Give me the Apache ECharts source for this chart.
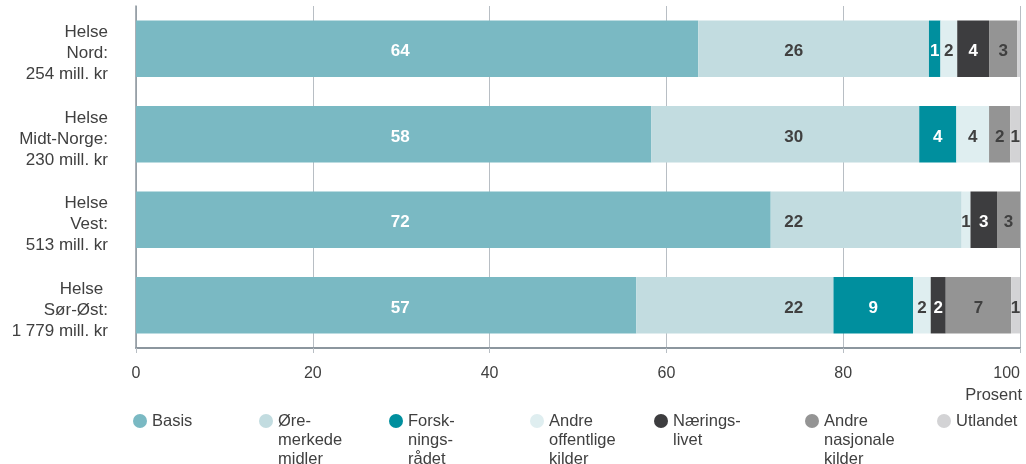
<!DOCTYPE html>
<html>
  <head>
    <meta charset="utf-8" />
    <title>Helseforetak etter finansieringskilde</title>
    <script src="https://cdn.jsdelivr.net/npm/echarts@6/dist/echarts.min.js"></script>
    <style>
      html, body { margin: 0; padding: 0; background: #fff; }
      #chart { width: 1026px; height: 464px; }
    </style>
  </head>
  <body>
    <div id="chart"></div>
    <script>
      // kategorier (ovenfra og ned)
      var categories = [
        'Helse\nNord:\n254 mill. kr',
        'Helse\nMidt-Norge:\n230 mill. kr',
        'Helse\nVest:\n513 mill. kr',
        'Helse \nSør-Øst:\n1 779 mill. kr'
      ];
      var seriesNames = ['Basis', 'Øremerkede midler', 'Forskningsrådet', 'Andre offentlige kilder',
                         'Næringslivet', 'Andre nasjonale kilder', 'Utlandet'];
      var legendLabels = ['Basis', 'Øre-\nmerkede\nmidler', 'Forsk-\nnings-\nrådet', 'Andre\noffentlige\nkilder',
                          'Nærings-\nlivet', 'Andre\nnasjonale\nkilder', 'Utlandet'];
      // andel i prosent
      var basis = [63.6, 58.3, 71.8, 56.6];
      var oremerkede = [26.1, 30.3, 21.6, 22.3];
      var forskningsradet = [1.3, 4.2, 0, 9.0];
      var andreOffentlige = [1.9, 3.7, 1.0, 2.0];
      var naeringslivet = [3.6, 0, 3.0, 1.7];
      var andreNasjonale = [3.2, 2.4, 2.6, 7.4];
      var utlandet = [0.3, 1.1, 0, 1.0];
      var xTicks = [0, 20, 40, 60, 80, 100];

      var values = [basis, oremerkede, forskningsradet, andreOffentlige, naeringslivet, andreNasjonale, utlandet];

      // stil
      var colors = ['#7ab9c3', '#c2dce0', '#008f9e', '#dfeef0', '#3d3d3f', '#949494', '#d3d3d5'];
      var labelColors = ['#fff', '#404040', '#fff', '#404040', '#fff', '#404040', '#404040'];
      var legendLeft = [133, 259, 389, 530, 654, 805, 937];
      var gridLeft = 136, gridRight = 6;
      var pxPerUnit = (1026 - gridLeft - gridRight) / 100;
      // Basis og Øremerkede har etiketter i faste kolonner (verdi på x-aksen)
      var labelColumn = { 0: 29.9, 1: 74.4 };
      var labelDy = 3;
      var font = 'Liberation Sans, Arial, sans-serif';
      var textColor = '#404040';

      var myChart = echarts.init(document.getElementById('chart'));

      var series = values.map(function (arr, si) {
        return {
          name: seriesNames[si],
          type: 'bar',
          stack: 'total',
          barCategoryGap: '34%',
          itemStyle: { color: colors[si] },
          data: arr.map(function (v, ci) {
            var item = { value: v };
            if (labelColumn[si] !== undefined) {
              var start = 0;
              for (var k = 0; k < si; k++) start += values[k][ci];
              item.label = { offset: [(labelColumn[si] - (start + v / 2)) * pxPerUnit, labelDy] };
            }
            return item;
          }),
          label: {
            show: true,
            position: 'inside',
            offset: [0, labelDy],
            color: labelColors[si],
            fontFamily: font,
            fontWeight: 'bold',
            fontSize: 17,
            formatter: function (p) {
              var r = Math.round(p.value);
              return r > 0 ? String(r) : '';
            }
          },
          emphasis: { disabled: true }
        };
      });

      // legenden: første tekstlinje på høyde med sirkelen
      var lineH = 19;
      var legends = legendLabels.map(function (txt, i) {
        var n = txt.split('\n').length;
        var padded = new Array(n).join('\n') + txt;
        return {
          left: legendLeft[i],
          top: 421 - (2 * n - 1) * lineH / 2,
          orient: 'horizontal',
          icon: 'circle',
          itemWidth: 14,
          itemHeight: 14,
          itemGap: 0,
          selectedMode: false,
          padding: 0,
          data: [seriesNames[i]],
          formatter: function () { return padded; },
          textStyle: {
            color: textColor,
            fontFamily: font,
            fontSize: 16.5,
            lineHeight: lineH
          }
        };
      });

      var option = {
        animation: false,
        color: colors,
        legend: legends,
        grid: { left: gridLeft, right: gridRight, top: 6, bottom: 116, containLabel: false, outerBoundsMode: 'none' },
        xAxis: {
          type: 'value',
          min: 0,
          max: 100,
          interval: 20,
          name: 'Prosent',
          nameLocation: 'end',
          nameGap: 2,
          nameTextStyle: {
            color: textColor,
            fontFamily: font,
            fontSize: 16.5,
            align: 'right',
            verticalAlign: 'top',
            padding: [39, 0, 0, 0]
          },
          axisLine: { show: true, lineStyle: { color: '#8c969e', width: 2 } },
          axisTick: { show: true, length: 5, lineStyle: { color: '#b8bec4' } },
          splitLine: { show: true, lineStyle: { color: '#b8bec4', width: 1 } },
          axisLabel: {
            color: textColor,
            fontFamily: font,
            fontSize: 16,
            margin: 18,
            alignMaxLabel: 'right',
            formatter: function (v) { return xTicks.indexOf(v) >= 0 ? String(v) : ''; }
          }
        },
        yAxis: {
          type: 'category',
          inverse: true,
          data: categories,
          axisLine: { show: true, lineStyle: { color: '#8c969e', width: 1.5 } },
          axisTick: { show: false },
          axisLabel: {
            color: textColor,
            fontFamily: font,
            fontSize: 17,
            lineHeight: 21,
            align: 'right',
            margin: 28,
            // litt luft over teksten flytter blokken ned
            formatter: function (v) { return '{gap|}\n' + v; },
            rich: { gap: { fontSize: 1, lineHeight: 10 } }
          }
        },
        series: series
      };
      myChart.setOption(option);
    </script>
  </body>
</html>
